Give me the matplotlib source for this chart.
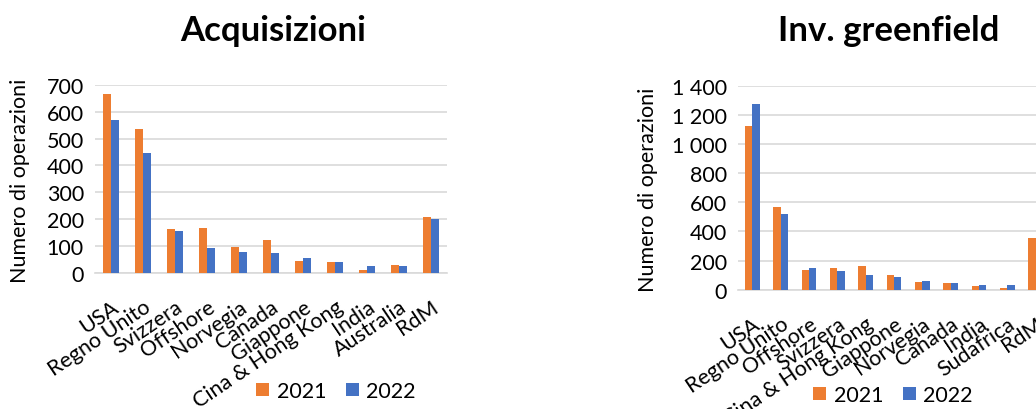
import matplotlib
matplotlib.use("Agg")
import matplotlib.pyplot as plt
import numpy as np
from matplotlib.ticker import FuncFormatter, MultipleLocator
from matplotlib.patches import Patch

plt.rcParams['font.family'] = ['Lato', 'DejaVu Sans']

# ---- data ----
acq_categories = ["USA", "Regno Unito", "Svizzera", "Offshore", "Norvegia", "Canada",
                  "Giappone", "Cina & Hong Kong", "India", "Australia", "RdM"]
acq_2021 = [668, 537, 162, 166, 96, 121, 42, 39, 10, 27, 207]
acq_2022 = [570, 445, 156, 93, 75, 71, 54, 39, 26, 25, 199]

gf_categories = ["USA", "Regno Unito", "Offshore", "Svizzera", "Cina & Hong Kong", "Giappone",
                 "Norvegia", "Canada", "India", "Sudafrica", "RdM"]
gf_2021 = [1121, 570, 135, 149, 160, 98, 53, 43, 27, 11, 355]
gf_2022 = [1277, 519, 149, 126, 103, 85, 57, 43, 32, 30, 330]

series_labels = ["2021", "2022"]
colors = ["#ED7D31", "#4472C4"]

FS = 15.5
W, H = 1036, 410
fig = plt.figure(figsize=(W / 100, H / 100), dpi=100)


def fx(px):
    return px / W


def fy(py):
    return 1 - py / H


def thousands(v, pos):
    return f"{int(v):,}".replace(",", " ")


def draw(ax, cats, s1, s2, ymax, step):
    x = np.arange(len(cats))
    w = 0.26
    ax.bar(x - w / 2, s1, width=w, color=colors[0], zorder=3)
    ax.bar(x + w / 2, s2, width=w, color=colors[1], zorder=3)
    ax.set_xlim(-0.5, len(cats) - 0.5)
    ax.set_ylim(0, ymax)
    ax.yaxis.set_major_locator(MultipleLocator(step))
    ax.yaxis.set_major_formatter(FuncFormatter(thousands))
    ax.grid(axis="y", color="#d9d9d9", linewidth=1.2, zorder=0)
    for s in ["top", "right", "left"]:
        ax.spines[s].set_visible(False)
    ax.spines["bottom"].set_color("#d9d9d9")
    ax.spines["bottom"].set_linewidth(1.2)
    ax.tick_params(axis="both", length=0, labelsize=FS, colors="black")
    ax.tick_params(axis="y", pad=8)
    ax.tick_params(axis="x", pad=17)
    ax.set_xticks(x)
    ax.set_xticklabels(cats, rotation=34, ha="right", va="top", rotation_mode="anchor")


# left chart
ax1 = fig.add_axes([fx(95), fy(273.5), fx(447 - 95), (273.5 - 86) / H])
draw(ax1, acq_categories, acq_2021, acq_2022, 700, 100)
fig.text(fx(273), fy(31), "Acquisizioni", ha="center", va="center",
         fontsize=25, fontweight="bold")
fig.text(fx(20), fy(181), "Numero di operazioni", rotation=90, ha="center",
         va="center", fontsize=FS)

# right chart (extends beyond the right edge, as in the reference)
ax2 = fig.add_axes([fx(738.3), fy(290.7), fx(1049.7 - 738.3), (290.7 - 86.7) / H])
draw(ax2, gf_categories, gf_2021, gf_2022, 1400, 200)
fig.text(fx(889), fy(31), "Inv. greenfield", ha="center", va="center",
         fontsize=25, fontweight="bold")
fig.text(fx(648), fy(190), "Numero di operazioni", rotation=90, ha="center",
         va="center", fontsize=FS)

handles = [Patch(facecolor=c, label=l) for c, l in zip(colors, series_labels)]
for cx, cy in [(336, 392), (893, 396)]:
    fig.legend(handles=handles, loc="center", bbox_to_anchor=(fx(cx), fy(cy)),
               ncol=2, frameon=False, fontsize=FS, handlelength=0.6,
               handleheight=0.6, handletextpad=0.35, columnspacing=0.9,
               borderpad=0, borderaxespad=0)

fig.savefig("out.png", dpi=100)
